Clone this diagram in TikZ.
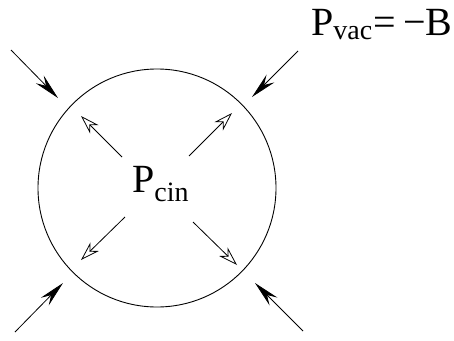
\documentclass[tikz,border=0pt]{standalone}
\usepackage{fontspec}
\setmainfont{Liberation Serif}
\usetikzlibrary{arrows.meta}
\begin{document}
\begin{tikzpicture}[x=1pt,y=-1pt,
  ball/.style={draw,circle,line width=0.9pt,minimum size=238pt,inner sep=0pt},
  inpush/.style={line width=0.8pt,-{Stealth[length=26pt,width=11pt,inset=9pt]}},
  outpush/.style={line width=0.8pt,-{Stealth[open,length=19pt,width=12pt,inset=6pt]}},
  lbl/.style={font=\fontsize{40}{46}\selectfont,inner sep=0pt,anchor=base west}]
\useasboundingbox (0,0) rectangle (454,340);
\node[ball] (c) at (157,188) {};
\node[lbl] (pcin) at (132,192) {P\textsubscript{cin}};
\node[lbl] (pvac) at (311,35) {P\textsubscript{vac}\kern1pt=\,−B};
% outer arrows
\coordinate (a1) at (11,50);  \coordinate (b1) at (58,98);
\coordinate (a2) at (298,51); \coordinate (b2) at (252,97);
\coordinate (a3) at (15,332); \coordinate (b3) at (63,283);
\coordinate (a4) at (303,331);\coordinate (b4) at (255,283);
\draw[inpush] (a1) -- (b1);
\draw[inpush] (a2) -- (b2);
\draw[inpush] (a3) -- (b3);
\draw[inpush] (a4) -- (b4);
% inner arrows
\coordinate (i1) at (122,157); \coordinate (o1) at (81,116);
\coordinate (i2) at (189,156); \coordinate (o2) at (232,113);
\coordinate (i3) at (125,217); \coordinate (o3) at (81,260);
\coordinate (i4) at (193,222); \coordinate (o4) at (237,265);
\draw[outpush] (i1) -- (o1);
\draw[outpush] (i2) -- (o2);
\draw[outpush] (i3) -- (o3);
\draw[outpush] (i4) -- (o4);
\end{tikzpicture}
\end{document}
